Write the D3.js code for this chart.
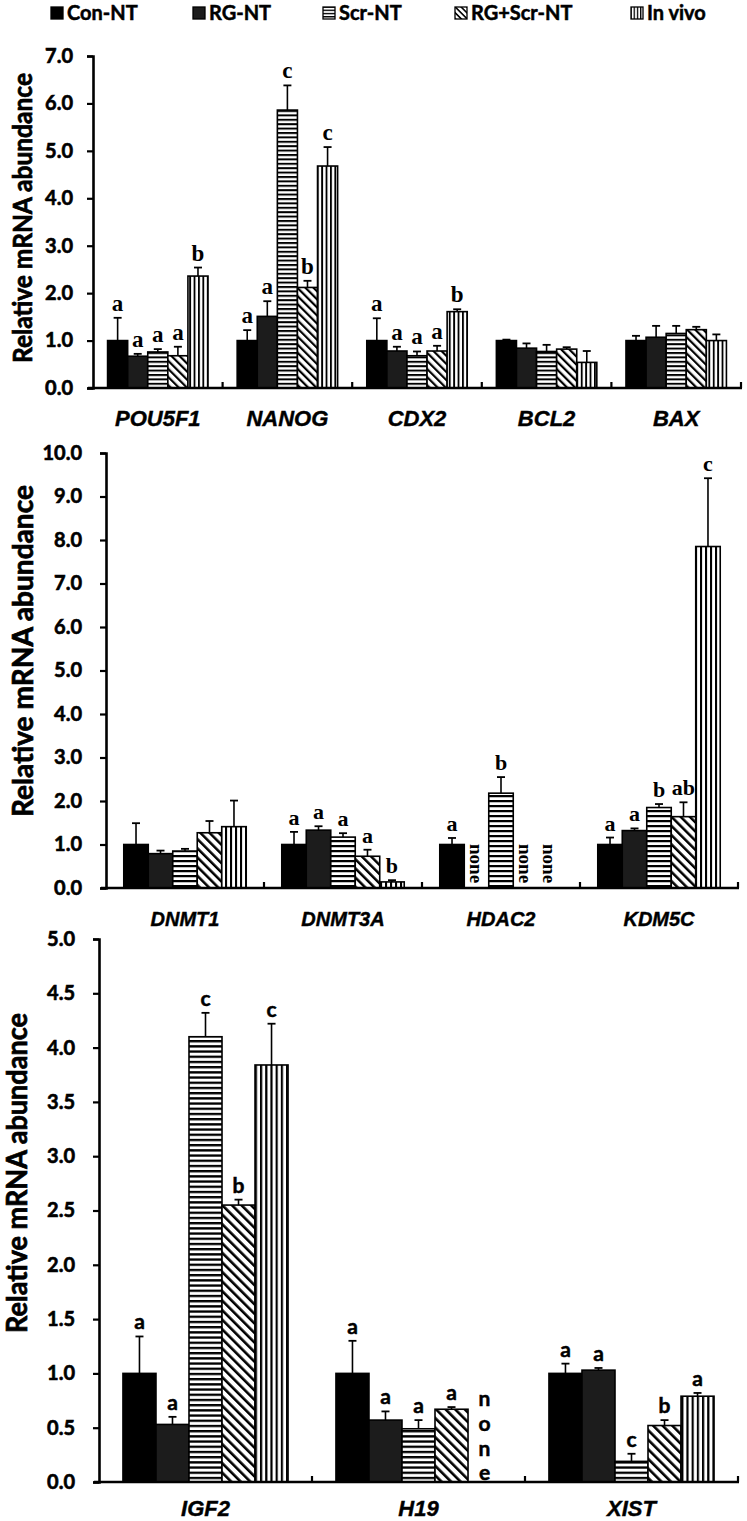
<!DOCTYPE html>
<html><head><meta charset="utf-8">
<script src="https://cdn.jsdelivr.net/npm/d3@7"></script>
<style>body{margin:0;background:#fff} svg{display:block}</style>
</head><body><svg id="c" width="747" height="1521"></svg>
<script>
// ---------------- data ----------------
const groups = ["Con-NT","RG-NT","Scr-NT","RG+Scr-NT","In vivo"];

const p1Genes = ["POU5F1","NANOG","CDX2","BCL2","BAX"];
const p1Mean = [
  [1.00,0.67,0.76,0.68,2.36],
  [1.00,1.51,5.86,2.12,4.68],
  [1.00,0.78,0.68,0.78,1.61],
  [1.00,0.84,0.77,0.82,0.54],
  [1.00,1.07,1.15,1.23,1.00]];
const p1Err = [
  [1.48,0.72,0.82,0.87,2.54],
  [1.22,1.83,6.38,2.26,5.08],
  [1.47,0.87,0.77,0.89,1.66],
  [1.02,0.94,0.91,0.86,0.78],
  [1.10,1.31,1.31,1.29,1.13]];
const p1Sig = [
  ["a","a","a","a","b"],
  ["a","a","c","b","c"],
  ["a","a","a","a","b"],
  [null,null,null,null,null],
  [null,null,null,null,null]];
const p1Ticks = [0,1,2,3,4,5,6,7];

const p2Genes = ["DNMT1","DNMT3A","HDAC2","KDM5C"];
const p2Mean = [
  [1.00,0.79,0.85,1.27,1.41],
  [1.00,1.33,1.17,0.73,0.14],
  [1.00,null,2.18,null,null],
  [1.00,1.32,1.85,1.64,7.85]];
const p2Err = [
  [1.49,0.86,0.90,1.54,2.01],
  [1.29,1.42,1.26,0.88,0.18],
  [1.15,null,2.55,null,null],
  [1.16,1.37,1.93,1.97,9.42]];
const p2Sig = [
  [null,null,null,null,null],
  ["a","a","a","a","b"],
  ["a",null,"b",null,null],
  ["a","a","b","ab","c"]];
const p2Ticks = [0,1,2,3,4,5,6,7,8,9,10];

const p3Genes = ["IGF2","H19","XIST"];
const p3Mean = [
  [1.00,0.53,4.10,2.55,3.84],
  [1.00,0.57,0.49,0.67,null],
  [1.00,1.03,0.19,0.52,0.79]];
const p3Err = [
  [1.34,0.60,4.32,2.60,4.22],
  [1.30,0.65,0.57,0.69,null],
  [1.09,1.05,0.26,0.57,0.82]];
const p3Sig = [
  ["a","a","c","b","c"],
  ["a","a","a","a",null],
  ["a","a","c","b","a"]];
const p3Ticks = [0,0.5,1,1.5,2,2.5,3,3.5,4,4.5,5];

const yTitle = "Relative mRNA abundance";

// ---------------- drawing ----------------
const svg = d3.select("#c");
const defs = svg.append("defs");
const SANS = "Lato, 'Liberation Sans', Arial, sans-serif";
const SERIF = "'Liberation Serif', 'Times New Roman', serif";

function heavy(sel, w){ return sel.attr("stroke","#000").attr("stroke-width",w).attr("paint-order","stroke"); }

function makePatterns(id, sp){
  const h = defs.append("pattern").attr("id","h"+id).attr("patternUnits","userSpaceOnUse")
    .attr("width",10).attr("height",sp);
  h.append("rect").attr("width",10).attr("height",sp).attr("fill","#fff");
  h.append("rect").attr("width",10).attr("height",sp*0.45).attr("fill","#000");
  const v = defs.append("pattern").attr("id","v"+id).attr("patternUnits","userSpaceOnUse")
    .attr("width",sp).attr("height",10);
  v.append("rect").attr("width",sp).attr("height",10).attr("fill","#fff");
  v.append("rect").attr("width",sp*0.42).attr("height",10).attr("fill","#000");
  const d = defs.append("pattern").attr("id","d"+id).attr("patternUnits","userSpaceOnUse")
    .attr("width",sp*1.3).attr("height",10).attr("patternTransform","rotate(-45)");
  d.append("rect").attr("width",sp*1.3).attr("height",10).attr("fill","#fff");
  d.append("rect").attr("width",sp*0.5).attr("height",10).attr("fill","#000");
}
makePatterns("L",3.2);
makePatterns("P1",4.4);
makePatterns("P2",5);
makePatterns("P3",5.2);

function fills(id){ return ["#000","#1c1c1c","url(#h"+id+")","url(#d"+id+")","url(#v"+id+")"]; }

// legend
const legX = [51,193,323,455,631];
const legF = fills("L");
const leg = svg.append("g");
groups.forEach((g,i)=>{
  leg.append("rect").attr("x",legX[i]).attr("y",7).attr("width",12).attr("height",12)
    .attr("fill",legF[i]).attr("stroke","#000").attr("stroke-width",1.3);
  heavy(leg.append("text").attr("x",legX[i]+16).attr("y",20).text(g)
    .attr("font-family",SANS).attr("font-weight","bold").attr("font-size",20).attr("fill","#000"),0.5);
});

function panel(cfg){
  const {genes, mean, err, sig, ticks, x0, x1, yTop, yBot, ymax, id,
         titleX, titleY, titleSize, titleLen, xlabY, xlabSize, tickGap, letterFont, letterSize, noneStyle} = cfg;
  const g = svg.append("g");
  const y = d3.scaleLinear().domain([0,ymax]).range([yBot,yTop]);
  const x = d3.scaleBand().domain(genes).range([x0,x1]).paddingInner(0).paddingOuter(0);
  const xs = d3.scaleBand().domain(groups).range([0,x.bandwidth()*0.775]);
  const off = x.bandwidth()*(1-0.775)/2;
  const f = fills(id);

  // y axis
  const ax = g.append("g").attr("transform",`translate(${x0},0)`)
    .call(d3.axisLeft(y).tickValues(ticks).tickFormat(d3.format(".1f")).tickSizeOuter(0).tickSize(6).tickPadding(tickGap));
  ax.select(".domain").attr("stroke","#000").attr("stroke-width",2.6);
  ax.selectAll(".tick line").attr("stroke","#000").attr("stroke-width",2.2);
  heavy(ax.selectAll(".tick text").attr("font-family",SANS).attr("font-weight","bold")
    .attr("font-size",20).attr("fill","#000"),0.6);

  // bars
  genes.forEach((gene,gi)=>{
    groups.forEach((grp,k)=>{
      const m = mean[gi][k];
      const bx = x(gene)+off+xs(grp);
      const bw = xs.bandwidth();
      if(m===null){
        if(noneStyle==="rot"){
          g.append("text").attr("transform",`translate(${bx+bw/2},${yBot-44}) rotate(90)`)
            .attr("dy","0.35em").text("none").attr("font-family",SERIF).attr("font-weight","bold")
            .attr("font-size",19).attr("fill","#000");
        } else if(noneStyle==="stack"){
          ["n","o","n","e"].forEach((ch,ci)=>{
            heavy(g.append("text").attr("x",bx+bw/2).attr("y",yBot-83+ci*24.7).attr("dy","0.35em")
              .attr("text-anchor","middle").text(ch).attr("font-family",SANS).attr("font-weight","bold")
              .attr("font-size",21).attr("fill","#000"),0.5);
          });
        }
        return;
      }
      g.append("rect").attr("x",bx).attr("y",y(m)).attr("width",bw).attr("height",yBot-y(m))
        .attr("fill",f[k]).attr("stroke","#000").attr("stroke-width",1.6);
      const e = err[gi][k];
      const cx = bx+bw/2;
      g.append("line").attr("x1",cx).attr("x2",cx).attr("y1",y(m)).attr("y2",y(e))
        .attr("stroke","#000").attr("stroke-width",1.6);
      g.append("line").attr("x1",cx-4).attr("x2",cx+4).attr("y1",y(e)).attr("y2",y(e))
        .attr("stroke","#000").attr("stroke-width",1.8);
      const s = sig[gi][k];
      if(s){
        const t = g.append("text").attr("x",cx).attr("y",y(e)-7).attr("text-anchor","middle").text(s)
          .attr("font-family",letterFont).attr("font-weight","bold")
          .attr("font-size",letterSize).attr("fill","#000");
        if(letterFont===SANS) heavy(t,0.5);
      }
    });
    // x label
    heavy(g.append("text").attr("x",x(gene)+x.bandwidth()/2).attr("y",xlabY).attr("text-anchor","middle")
      .text(gene).attr("font-family","'Liberation Sans', Arial, sans-serif").attr("font-weight","bold")
      .attr("font-style","italic").attr("font-size",xlabSize).attr("fill","#000"),0.4);
  });

  // x axis line and boundary ticks
  g.append("line").attr("x1",x0-5).attr("x2",x1+1).attr("y1",yBot).attr("y2",yBot)
    .attr("stroke","#000").attr("stroke-width",2.6);
  genes.forEach((gene,gi)=>{
    const bx = x(gene)+x.bandwidth();
    g.append("line").attr("x1",bx).attr("x2",bx).attr("y1",yBot).attr("y2",yBot-6)
      .attr("stroke","#000").attr("stroke-width",2.2);
  });

  // y title
  heavy(g.append("text").attr("transform",`translate(${titleX},${titleY}) rotate(-90)`)
    .attr("text-anchor","middle").text(yTitle).attr("font-family",SANS).attr("font-weight","bold")
    .attr("font-size",titleSize).attr("textLength",titleLen).attr("lengthAdjust","spacingAndGlyphs")
    .attr("fill","#000"),0.7);
}

panel({genes:p1Genes, mean:p1Mean, err:p1Err, sig:p1Sig, ticks:p1Ticks, id:"P1",
  x0:93, x1:741, yTop:56, yBot:388, ymax:7,
  titleX:32, titleY:218, titleSize:26, titleLen:290, xlabY:426, xlabSize:22, tickGap:14,
  letterFont:SERIF, letterSize:23, noneStyle:"rot"});

panel({genes:p2Genes, mean:p2Mean, err:p2Err, sig:p2Sig, ticks:p2Ticks, id:"P2",
  x0:106, x1:738, yTop:453, yBot:888, ymax:10,
  titleX:33, titleY:651, titleSize:28, titleLen:332, xlabY:926, xlabSize:20, tickGap:18,
  letterFont:SERIF, letterSize:22, noneStyle:"rot"});

panel({genes:p3Genes, mean:p3Mean, err:p3Err, sig:p3Sig, ticks:p3Ticks, id:"P3",
  x0:99, x1:738, yTop:939, yBot:1482, ymax:5,
  titleX:27, titleY:1173, titleSize:28, titleLen:320, xlabY:1516, xlabSize:22, tickGap:18,
  letterFont:SANS, letterSize:21, noneStyle:"stack"});
</script>
</body></html>
